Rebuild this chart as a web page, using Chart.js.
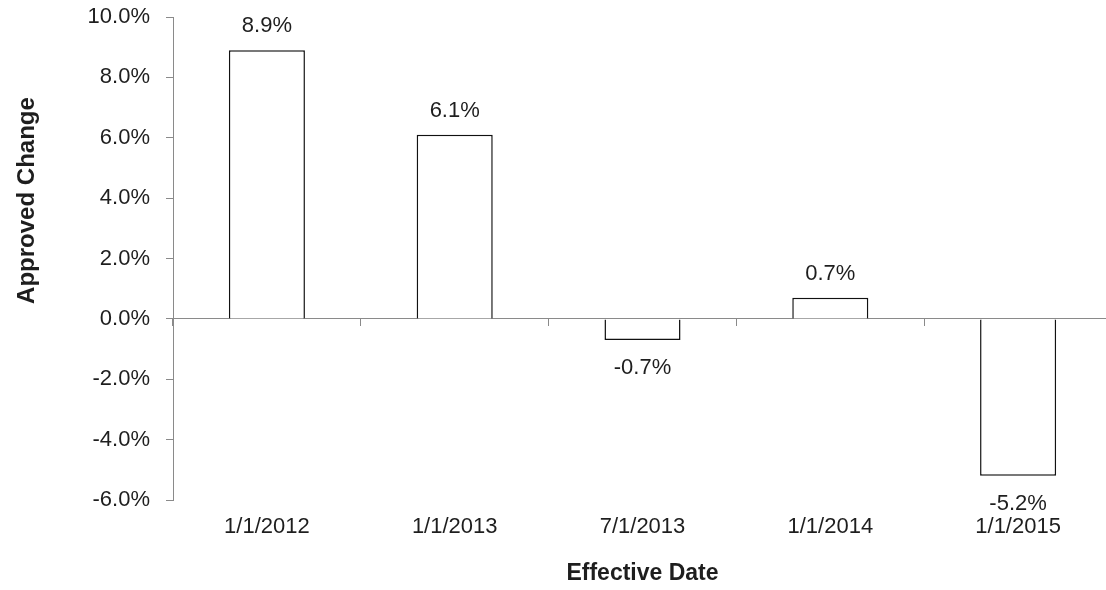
<!DOCTYPE html>
<html>
<head>
<meta charset="utf-8">
<script src="https://cdn.jsdelivr.net/npm/chart.js@4.4.1/dist/chart.umd.min.js"></script>
<style>
    body { margin: 0; background: #fff; overflow: hidden; }
    #wrap { width: 1112px; height: 590px; }
</style>
</head>
<body>
<div id="wrap"><canvas id="chart"></canvas></div>
<script>
const dates = ["1/1/2012", "1/1/2013", "7/1/2013", "1/1/2014", "1/1/2015"];
const changes = [8.9, 6.1, -0.7, 0.7, -5.2];
const yMin = -6;
const yMax = 10;
const yStep = 2;

const axisGray = "#8a8a8a";
const textColor = "#1e1e1e";
const font = "'Liberation Sans', Arial, sans-serif";

// value labels above / below each bar
const barLabels = {
    id: "barLabels",
    afterDatasetsDraw(chart) {
        const ctx = chart.ctx;
        const meta = chart.getDatasetMeta(0);
        ctx.save();
        ctx.font = "22px " + font;
        ctx.fillStyle = textColor;
        ctx.textAlign = "center";
        ctx.textBaseline = "middle";
        meta.data.forEach((bar, i) => {
            const v = changes[i];
            const y = v >= 0 ? bar.y - 24 : bar.y + 28;
            ctx.fillText(v.toFixed(1) + "%", bar.x, y);
        });
        ctx.restore();
    }
};

// y title sits above the plot's middle, as in the original
const yTitle = {
    id: "yTitle",
    afterDraw(chart) {
        const ctx = chart.ctx;
        const a = chart.chartArea;
        ctx.save();
        ctx.translate(27, a.top + (a.bottom - a.top) * 0.38);
        ctx.rotate(-Math.PI / 2);
        ctx.font = "bold 24px " + font;
        ctx.fillStyle = textColor;
        ctx.textAlign = "center";
        ctx.textBaseline = "middle";
        ctx.fillText("Approved Change", 0, 0);
        ctx.restore();
    }
};

new Chart(document.getElementById("chart"), {
    type: "bar",
    data: {
        labels: dates,
        datasets: [{
            data: changes,
            backgroundColor: "#ffffff",
            borderColor: "#111111",
            borderWidth: 1.5,
            categoryPercentage: 1,
            barPercentage: 0.405
        }]
    },
    plugins: [barLabels, yTitle],
    options: {
        responsive: true,
        maintainAspectRatio: false,
        animation: false,
        layout: { padding: { top: 17, right: 0, left: 0, bottom: 0 } },
        plugins: {
            legend: { display: false },
            tooltip: { enabled: false }
        },
        scales: {
            x: {
                type: "category",
                offset: true,
                grid: { display: false, drawTicks: false },
                border: { display: false },
                ticks: {
                    color: textColor,
                    font: { family: font, size: 22 },
                    padding: 14,
                    maxRotation: 0
                },
                title: {
                    display: true,
                    text: "Effective Date",
                    color: textColor,
                    font: { family: font, size: 23, weight: "bold" },
                    padding: { top: 0, bottom: 3 }
                },
                afterFit(scale) { scale.height = 90; }
            },
            zero: {
                type: "category",
                axis: "x",
                position: { y: 0 },
                offset: true,
                z: 1,
                grid: {
                    offset: true,
                    drawOnChartArea: false,
                    drawTicks: true,
                    tickLength: 7,
                    color: axisGray
                },
                border: { display: true, color: axisGray, width: 1 },
                ticks: { display: false }
            },
            y: {
                min: yMin,
                max: yMax,
                grid: {
                    drawOnChartArea: false,
                    drawTicks: true,
                    tickLength: 7,
                    color: axisGray
                },
                border: { display: true, color: axisGray, width: 1 },
                ticks: {
                    stepSize: yStep,
                    color: textColor,
                    font: { family: font, size: 22 },
                    padding: 16,
                    callback: v => v.toFixed(1) + "%"
                },
                afterFit(scale) {
                    scale.width = 173;
                    // tick padding would otherwise push the plot top down
                    scale.paddingTop = 0;
                    scale.paddingBottom = 0;
                }
            }
        }
    }
});
</script>
</body>
</html>
